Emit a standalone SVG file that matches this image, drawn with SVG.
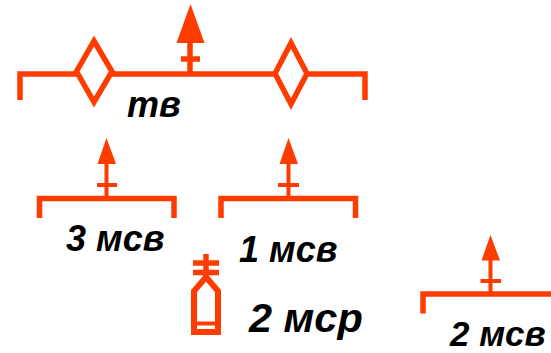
<svg xmlns="http://www.w3.org/2000/svg" width="551" height="353" viewBox="0 0 551 353">
<style>
.l{fill:none;stroke:#ff3c00;stroke-width:5.5}
.s{fill:none;stroke:#ff3c00;stroke-width:4}
.a{fill:#ff3c00;stroke:none}
text{font-family:"Liberation Sans",Arial,sans-serif;font-weight:bold;font-style:italic;fill:#000}
</style>
<rect width="551" height="353" fill="#fff"/>
<g id="connectors">
<path id="top-bracket" class="l" d="M20 100V74H365V100"/>
<path class="l" d="M190 72V42M181 59H200"/>
<path class="a" d="M190.500 4L204.500 43H176.500Z"/>
<path class="l" d="M39.500 218V198.500H174V218"/>
<path class="s" d="M106.500 197V160M97 185H117"/>
<path class="a" d="M106.500 138L116 164H97.500Z"/>
<path class="l" d="M221 218V198.500H355.500V218"/>
<path class="s" d="M288.500 197V160M278 185H299"/>
<path class="a" d="M288.500 138L298 164H279.500Z"/>
<path class="l" d="M423 313.500V294H551"/>
<path class="s" d="M490.500 292V256M480.500 281H501"/>
<path class="a" d="M490.500 235L500 260.500H481.500Z"/>
</g>
<g id="diamond-1"><path d="M94 41L112 71.500L94 102L76.500 71.500Z" fill="#fff" stroke="#ff3c00" stroke-width="5.500"/></g>
<g id="diamond-2"><path d="M291 43L307 73.500L291 104L275 73.500Z" fill="#fff" stroke="#ff3c00" stroke-width="5.500"/></g>
<g id="bottle">
<path class="l" d="M206 254V278M193 263H219M193 272.500H219"/>
<path d="M206 277L218 291V332H194V291Z" fill="#fff" stroke="#ff3c00" stroke-width="6"/>
<path class="s" d="M194 323.500H218"/>
</g>
<g id="labels">
<text x="127" y="117" font-size="36">тв</text>
<text x="66" y="251" font-size="36">3 мсв</text>
<text x="239" y="262" font-size="36">1 мсв</text>
<text x="249" y="332" font-size="41.500">2 мср</text>
<text x="450" y="345.500" font-size="35">2 мсв</text>
</g>
</svg>
